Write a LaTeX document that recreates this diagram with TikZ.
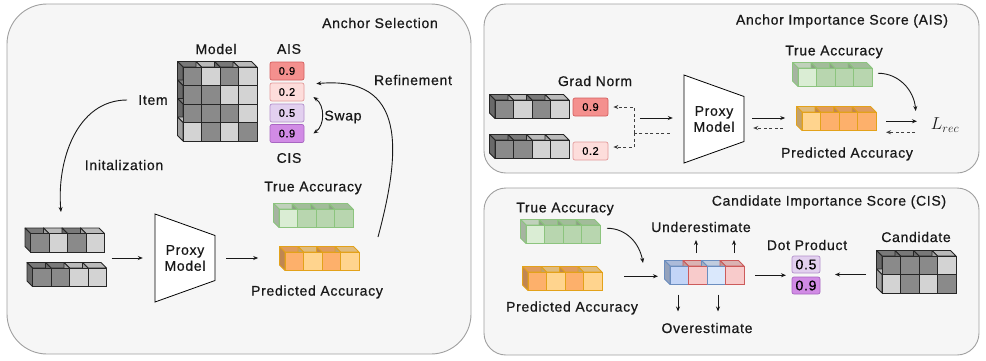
\documentclass[tikz,border=0pt]{standalone}
\usepackage{fontspec}
\setmainfont[LetterSpace=5, FakeBold=0.6]{Liberation Sans}
\usepackage{amsmath}
\usepackage{xcolor}
% cube colours: front fill and edge colour of each kind
\definecolor{gd}{HTML}{8A8A8A}\definecolor{gd-line}{HTML}{262626}
\definecolor{gl}{HTML}{D3D3D3}\definecolor{gl-line}{HTML}{262626}
\definecolor{ga}{HTML}{DAEDD4}\definecolor{ga-line}{HTML}{8CC47E}
\definecolor{gb}{HTML}{B8D6AF}\definecolor{gb-line}{HTML}{8CC47E}
\definecolor{oa}{HTML}{FDB06B}\definecolor{oa-line}{HTML}{E3A21A}
\definecolor{ob}{HTML}{FFD48E}\definecolor{ob-line}{HTML}{E3A21A}
\definecolor{ba}{HTML}{C3D5F7}\definecolor{ba-line}{HTML}{6C8EBF}
\definecolor{bb}{HTML}{DAE8FC}\definecolor{bb-line}{HTML}{6C8EBF}
\definecolor{pk}{HTML}{F8CBCB}\definecolor{pk-line}{HTML}{CC5B5B}
\definecolor{panelfill}{HTML}{F6F6F6}
\definecolor{panelline}{HTML}{A0A0A0}
\usepackage{pgf,tikz}
\usetikzlibrary{arrows.meta,positioning,fit}
\newcommand{\cellsz}{18.5}
\newcommand{\cubedepth}{5.5}
% name, x, y (front top left), cols, rows, cells c/r/kind
\newcommand{\cubebar}[6]{%
  \foreach \c/\r/\k in {#6}{%
    \path[draw=\k-line, fill=\k!88!black, line width=0.8pt, line join=round]
      ({#2+\c*\cellsz},{#3+\r*\cellsz}) -- ++(-\cubedepth,-\cubedepth) -- ++(\cellsz,0) -- ++(\cubedepth,\cubedepth) -- cycle;
    \path[draw=\k-line, fill=\k!76!black, line width=0.8pt, line join=round]
      ({#2+\c*\cellsz},{#3+\r*\cellsz}) -- ++(-\cubedepth,-\cubedepth) -- ++(0,\cellsz) -- ++(\cubedepth,\cubedepth) -- cycle;
  }
  \foreach \c/\r/\k in {#6}{%
    \path[draw=\k-line, fill=\k, line width=0.8pt]
      ({#2+\c*\cellsz},{#3+\r*\cellsz}) rectangle ++(\cellsz,\cellsz);
  }
  \node[inner sep=0, outer sep=0, minimum width={#4*\cellsz pt}, minimum height={#5*\cellsz pt}, anchor=north west] (#1) at (#2,#3) {};
}
\newcommand{\proxyat}[2]{%
  \path[draw, fill=white, line width=0.8pt] (#1) ++(-30,-44) -- ++(60,21.5) -- ++(0,45) -- ++(-60,21.5) -- cycle;
  \node[proxy] (#2) at (#1) {Proxy\\Model};
}
\tikzset{
  lbl/.style={font=\fontsize{14}{16}\selectfont, inner sep=1pt, text=black!90},
  proxy/.style={lbl, align=center, minimum width=60pt, minimum height=88pt, inner sep=0},
  panel/.style={draw=panelline, fill=panelfill, line width=0.9pt},
  score/.style={draw, rounded corners=2pt, minimum width=34pt, minimum height=18pt, inner sep=0,
                font=\fontsize{11}{12}\selectfont, line width=0.7pt},
  sred/.style={score, fill={rgb,255:red,244;green,144;blue,142}, draw={rgb,255:red,212;green,95;blue,95}},
  spink/.style={score, fill={rgb,255:red,253;green,221;blue,219}, draw={rgb,255:red,227;green,154;blue,154}},
  slav/.style={score, fill={rgb,255:red,226;green,208;blue,239}, draw={rgb,255:red,178;green,143;blue,203}},
  spur/.style={score, fill={rgb,255:red,209;green,139;blue,229}, draw={rgb,255:red,168;green,102;blue,194}},
  ar/.style={-{Stealth[length=5pt,width=4pt]}, draw=black!90, line width=0.9pt},
  dar/.style={ar, draw=black!75, dash pattern=on 3pt off 2.5pt},
}
\begin{document}
\begin{tikzpicture}[x=1pt, y=-1pt]
  \useasboundingbox (0,0) rectangle (986,360);
  % panels
  \draw[panel, rounded corners=40pt] (7,4) rectangle (471,354);
  \draw[panel, rounded corners=22pt] (484,4) rectangle (979,173);
  \draw[panel, rounded corners=22pt] (484,188) rectangle (979,355);

  % ---- Anchor Selection ----
  \node[lbl] (selT) at (380,23) {Anchor Selection};
  \node[lbl] (modelT) at (216,49) {Model};
  \node[lbl] (aisT) at (289,49) {AIS};
  \node[lbl] (cisT) at (289,158) {CIS};
  \node[lbl] (item) at (153,100) {Item};
  \node[lbl] (swapT) at (343,117) {Swap};
  \node[lbl] (refT) at (413,80) {Refinement};
  \node[lbl] (initT) at (124,165) {Initalization};
  \cubebar{model}{183}{67}{4}{4}{0/0/gd,1/0/gl,2/0/gd,3/0/gl,0/1/gd,1/1/gd,2/1/gl,3/1/gl,0/2/gd,1/2/gd,2/2/gd,3/2/gl,0/3/gl,1/3/gd,2/3/gl,3/3/gd}
  \node[sred] (ais1) at (287,71) {0.9};
  \node[spink] (ais2) at (287,92) {0.2};
  \node[slav] (cis1) at (287,113) {0.5};
  \node[spur] (cis2) at (287,133.5) {0.9};
  \draw[ar, {Stealth[length=5pt,width=4pt]}-{Stealth[length=5pt,width=4pt]}]
    ([xshift=9pt,yshift=-5pt]ais2.east) to[bend left=55] ([xshift=9pt]cis2.east);

  \cubebar{inp1}{30.5}{233.5}{4}{1}{0/0/gd,1/0/gl,2/0/gd,3/0/gl}
  \cubebar{inp2}{32.5}{268}{4}{1}{0/0/gd,1/0/gd,2/0/gl,3/0/gl}
  \node[fit=(inp1)(inp2), inner sep=0] (inpL) {};
  \proxyat{185,258}{pmL}
  \cubebar{trueL}{279}{209}{4}{1}{0/0/ga,1/0/gb,2/0/gb,3/0/gb}
  \cubebar{predL}{285}{252}{4}{1}{0/0/oa,1/0/ob,2/0/oa,3/0/ob}
  \node[lbl] (trueLT) at (313,188) {True Accuracy};
  \node[lbl] (predLT) at (317,292) {Predicted Accuracy};

  \draw[ar] ([xshift=-10pt]item.west) to[out=180, in=95] ([xshift=-6.5pt,yshift=21.5pt]inp1.north);
  \draw[ar] ([xshift=5pt]inpL.east |- pmL.west) -- ([xshift=-12pt]pmL.west);
  \draw[ar] ([xshift=11pt]pmL.east) -- ++(32,0);
  \draw[ar] ([xshift=19pt,yshift=15pt]predL.north east) to[out=75, in=5, looseness=1.4] ([xshift=12pt,yshift=-1pt]ais2.north east);

  % ---- Anchor Importance Score ----
  \node[lbl] (aisPT) at (842,21) {Anchor Importance Score (AIS)};
  \node[lbl] (gradT) at (595,81) {Grad Norm};
  \cubebar{gn1}{495}{100}{4}{1}{0/0/gd,1/0/gl,2/0/gd,3/0/gl}
  \cubebar{gn2}{495}{140}{4}{1}{0/0/gd,1/0/gd,2/0/gl,3/0/gl}
  \node[sred, minimum width=35pt] (g1) at (590.5,107) {0.9};
  \node[spink, minimum width=35pt] (g2) at (590.5,151) {0.2};
  \proxyat{714,119}{pmA}
  \cubebar{trueA}{798}{68}{4}{1}{0/0/ga,1/0/gb,2/0/gb,3/0/gb}
  \cubebar{predA}{802}{112}{4}{1}{0/0/ob,1/0/oa,2/0/oa,3/0/oa}
  \node[lbl] (trueAT) at (834,52) {True Accuracy};
  \node[lbl] (predAT) at (847,154) {Predicted Accuracy};
  \node[lbl, font=\fontsize{18}{20}\selectfont] (lrec) at (945,125) {$L_{rec}$};

  \coordinate (fork) at (634,133);
  \draw[dar, -] ([xshift=-14pt,yshift=-14pt]pmA.west) -- (fork);
  \draw[dar] (fork) |- ([xshift=5pt]g1.east);
  \draw[dar] (fork) |- ([xshift=5pt,yshift=4pt]g2.east);
  \draw[ar] ([xshift=-44pt,yshift=1pt]pmA.west) -- ([xshift=-11pt,yshift=1pt]pmA.west);
  \draw[ar] ([xshift=8pt,yshift=1pt]pmA.east) -- ++(33,0);
  \draw[dar] ([xshift=39pt,yshift=-9pt]pmA.east) -- ++(-30,0);
  \draw[ar] ([xshift=10pt]predA.east) -- ++(31,0);
  \draw[dar] ([xshift=39pt,yshift=-11pt]predA.east) -- ++(-29,0);
  \draw[ar] ([xshift=6pt,yshift=4pt]trueA.east) to[out=0, in=95] ([xshift=-14pt,yshift=14pt]lrec.west);

  % ---- Candidate Importance Score ----
  \node[lbl] (cisPT) at (829,202) {Candidate Importance Score (CIS)};
  \node[lbl] (trueCT) at (565,209) {True Accuracy};
  \node[lbl] (predCT) at (572,308) {Predicted Accuracy};
  \cubebar{trueC}{526}{225}{4}{1}{0/0/ga,1/0/gb,2/0/gb,3/0/gb}
  \cubebar{predC}{528}{272}{4}{1}{0/0/oa,1/0/ob,2/0/oa,3/0/ob}
  \cubebar{diff}{670}{266}{4}{1}{0/0/ba,1/0/pk,2/0/bb,3/0/pk}
  \node[lbl] (underT) at (701,227) {Underestimate};
  \node[lbl] (overT) at (707,328) {Overestimate};
  \node[lbl] (dotT) at (807,245) {Dot Product};
  \node[slav, minimum width=28pt, minimum height=17pt, font=\fontsize{14}{16}\selectfont] (d1) at (806,264.5) {0.5};
  \node[spur, minimum width=28pt, minimum height=17pt, font=\fontsize{14}{16}\selectfont] (d2) at (806,285.5) {0.9};
  \node[lbl] (candT) at (916,237) {Candidate};
  \cubebar{cand}{882}{256}{4}{2}{0/0/gd,1/0/gd,2/0/gd,3/0/gl,0/1/gl,1/1/gd,2/1/gl,3/1/gd}

  \draw[ar] ([xshift=7pt,yshift=6pt]trueC.east) to[out=0, in=100] ([xshift=-27pt,yshift=3pt]diff.north west);
  \draw[ar] ([xshift=22pt,yshift=5pt]predC.east) -- ++(34,0);
  \draw[ar] ([xshift=26pt,yshift=13pt]diff.north west) -- ++(0,-13);
  \draw[ar] ([xshift=64pt,yshift=13pt]diff.north west) -- ++(0,-13);
  \draw[ar] ([xshift=8pt,yshift=-10pt]diff.south west) -- ++(0,17);
  \draw[ar] ([xshift=48pt,yshift=-10pt]diff.south west) -- ++(0,17);
  \draw[ar] ([xshift=11pt]diff.east) -- ++(31,0);
  \draw[ar] ([xshift=-16pt]cand.west) -- ++(-31,0);
\end{tikzpicture}
\end{document}
